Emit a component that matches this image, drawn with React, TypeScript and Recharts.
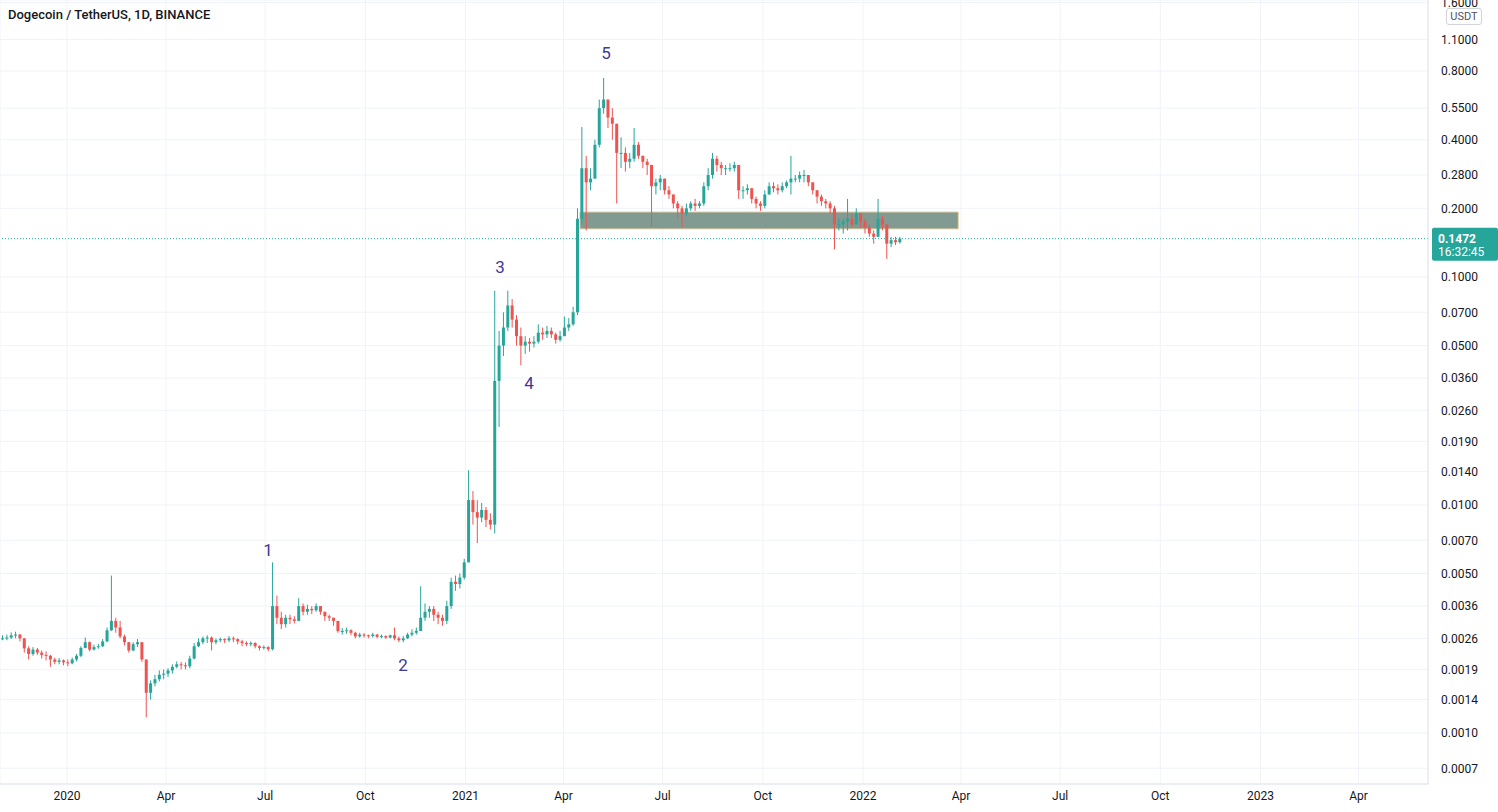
import {
  ComposedChart,
  Bar,
  XAxis,
  YAxis,
  CartesianGrid,
  ReferenceLine,
  ReferenceArea,
  ReferenceDot,
} from 'recharts';

// days are counted from 2020-01-01; one candle = 4 days, first candle starts 2019-11-01
const START_DAY = -61;
const STEP_DAYS = 4;
const FIRST_OPEN = 0.00258;

const closes = [
  0.0026, 0.00262, 0.00268, 0.0027, 0.0026, 0.00235, 0.00222, 0.00232, 0.00225, 0.0022,
  0.00218, 0.0021, 0.00205, 0.00208, 0.00204, 0.00202, 0.0021, 0.00218, 0.00236, 0.0025,
  0.00232, 0.00238, 0.0024, 0.00252, 0.00282, 0.0031, 0.0029, 0.00265, 0.0025, 0.0023,
  0.00245, 0.0025, 0.0021, 0.0015, 0.00165, 0.00172, 0.0018, 0.00182, 0.00188, 0.00195,
  0.002, 0.00198, 0.00196, 0.00212, 0.0024, 0.0025, 0.0026, 0.00262, 0.0025, 0.00255,
  0.00258, 0.00255, 0.0026, 0.00258, 0.00252, 0.00248, 0.00245, 0.00248, 0.0024, 0.00236,
  0.00238, 0.00233, 0.0036, 0.0032, 0.003, 0.0032, 0.00315, 0.0031, 0.0036, 0.0034,
  0.0035, 0.00345, 0.0036, 0.0034, 0.00325, 0.0032, 0.0031, 0.0028, 0.0028, 0.00282,
  0.00275, 0.00265, 0.0027, 0.00268, 0.00266, 0.0027, 0.00264, 0.00266, 0.00262, 0.00268,
  0.0026, 0.00255, 0.0026, 0.0027, 0.00275, 0.0028, 0.0032, 0.0034, 0.0035, 0.0033,
  0.0032, 0.0031, 0.0036, 0.0046, 0.0045, 0.0048, 0.0056, 0.0105, 0.0093, 0.0088,
  0.0095, 0.0086, 0.0082, 0.035, 0.05, 0.06, 0.075, 0.065, 0.055, 0.05,
  0.052, 0.051, 0.052, 0.057, 0.056, 0.058, 0.056, 0.053, 0.055, 0.06,
  0.062, 0.07, 0.18, 0.3, 0.26, 0.27, 0.38, 0.55, 0.6, 0.5,
  0.47, 0.35, 0.35, 0.32, 0.33, 0.38, 0.34, 0.32, 0.31, 0.25,
  0.26, 0.27, 0.24, 0.23, 0.21, 0.2, 0.19, 0.2, 0.21, 0.205,
  0.21, 0.25, 0.28, 0.33, 0.31, 0.3, 0.3, 0.3, 0.31, 0.24,
  0.24, 0.245, 0.22, 0.21, 0.205, 0.23, 0.25, 0.245, 0.24, 0.25,
  0.26, 0.27, 0.27, 0.28, 0.28, 0.26, 0.24, 0.225, 0.215, 0.21,
  0.2, 0.17, 0.17, 0.175, 0.18, 0.17, 0.19, 0.175, 0.165, 0.155,
  0.15, 0.18, 0.17, 0.14, 0.145, 0.142, 0.1472,
];

const highs = [
  0.00268, 0.0027, 0.00276, 0.00278, 0.00272, 0.0026, 0.0024, 0.00238, 0.00236, 0.0023,
  0.00228, 0.0022, 0.00214, 0.00213, 0.0021, 0.0021, 0.00214, 0.00222, 0.0024, 0.00262,
  0.00252, 0.00244, 0.00246, 0.00258, 0.0029, 0.0049, 0.0032, 0.0031, 0.0027, 0.0025,
  0.0025, 0.00258, 0.0025, 0.0021, 0.0017, 0.0018, 0.00188, 0.0019, 0.00192, 0.002,
  0.00206, 0.00205, 0.00204, 0.00218, 0.00248, 0.0026, 0.00265, 0.00268, 0.00265, 0.0026,
  0.00262, 0.0026, 0.00266, 0.00265, 0.0026, 0.00256, 0.00252, 0.00252, 0.0025, 0.00242,
  0.00242, 0.0024, 0.0056, 0.004, 0.0034, 0.0033, 0.0033, 0.00325, 0.0039, 0.0037,
  0.00365, 0.0036, 0.0037, 0.0036, 0.0034, 0.0033, 0.0032, 0.0031, 0.00288, 0.0029,
  0.00285, 0.00278, 0.00275, 0.00274, 0.0027, 0.00275, 0.00272, 0.0027, 0.00268, 0.0027,
  0.0029, 0.00265, 0.00266, 0.00275, 0.00285, 0.0029, 0.0044, 0.0037, 0.0036, 0.0036,
  0.0034, 0.0033, 0.0038, 0.0048, 0.0049, 0.005, 0.0058, 0.0142, 0.0115, 0.0105,
  0.0102, 0.0098, 0.0092, 0.087, 0.058, 0.07, 0.087, 0.08, 0.068, 0.06,
  0.055, 0.054, 0.055, 0.062, 0.06, 0.061, 0.06, 0.057, 0.058, 0.067,
  0.066, 0.074, 0.2, 0.455, 0.34, 0.3, 0.4, 0.6, 0.746, 0.6,
  0.55, 0.45, 0.41, 0.37, 0.35, 0.45, 0.39, 0.34, 0.33, 0.31,
  0.27, 0.28, 0.27, 0.25, 0.23, 0.215, 0.205, 0.21, 0.215, 0.22,
  0.215, 0.26, 0.3, 0.35, 0.34, 0.32, 0.31, 0.315, 0.32, 0.31,
  0.25, 0.255, 0.245, 0.225, 0.215, 0.24, 0.26, 0.26, 0.255, 0.26,
  0.265, 0.34, 0.28, 0.29, 0.295, 0.28, 0.26, 0.24, 0.23, 0.22,
  0.215, 0.205, 0.18, 0.18, 0.22, 0.19, 0.2, 0.19, 0.18, 0.17,
  0.16, 0.22, 0.185, 0.17, 0.15, 0.15, 0.15,
];

const lows = [
  0.00255, 0.00255, 0.00258, 0.0026, 0.00252, 0.00225, 0.0021, 0.00218, 0.0022, 0.00212,
  0.00208, 0.00195, 0.002, 0.002, 0.00198, 0.00196, 0.002, 0.00206, 0.00215, 0.00235,
  0.00228, 0.0023, 0.00234, 0.00238, 0.0025, 0.0028, 0.00275, 0.0026, 0.00242, 0.00225,
  0.00228, 0.00238, 0.00205, 0.00117, 0.0014, 0.0016, 0.00168, 0.00172, 0.00176, 0.00182,
  0.00192, 0.0019, 0.0019, 0.00192, 0.0021, 0.00238, 0.00245, 0.00248, 0.0023, 0.00245,
  0.0025, 0.00248, 0.0025, 0.0025, 0.00245, 0.0024, 0.0024, 0.0024, 0.00235, 0.0023,
  0.00232, 0.00228, 0.0023, 0.003, 0.00285, 0.0029, 0.003, 0.00302, 0.0031, 0.00328,
  0.0033, 0.00332, 0.0034, 0.0033, 0.0031, 0.0031, 0.00295, 0.00275, 0.0027, 0.00272,
  0.00268, 0.0026, 0.00262, 0.00262, 0.0026, 0.00262, 0.0026, 0.0026, 0.00258, 0.0026,
  0.00255, 0.0025, 0.0025, 0.00258, 0.00265, 0.0027, 0.0028, 0.0031, 0.0032, 0.0031,
  0.003, 0.00295, 0.003, 0.0035, 0.0042, 0.0043, 0.0047, 0.0056, 0.0082, 0.0068,
  0.0084, 0.008, 0.0078, 0.0075, 0.022, 0.045, 0.058, 0.06, 0.05, 0.041,
  0.046, 0.047, 0.049, 0.051, 0.053, 0.054, 0.054, 0.051, 0.052, 0.055,
  0.058, 0.061, 0.068, 0.17, 0.16, 0.24, 0.27, 0.37, 0.52, 0.45,
  0.4, 0.21, 0.3, 0.29, 0.3, 0.32, 0.33, 0.3, 0.28, 0.166,
  0.23, 0.24, 0.23, 0.22, 0.2, 0.18, 0.165, 0.185, 0.195, 0.195,
  0.2, 0.205, 0.24, 0.27, 0.29, 0.28, 0.28, 0.29, 0.29, 0.22,
  0.22, 0.23, 0.21, 0.2, 0.195, 0.2, 0.235, 0.235, 0.23, 0.235,
  0.245, 0.23, 0.26, 0.26, 0.26, 0.25, 0.23, 0.21, 0.205, 0.2,
  0.19, 0.132, 0.16, 0.155, 0.16, 0.165, 0.17, 0.165, 0.155, 0.15,
  0.14, 0.15, 0.16, 0.12, 0.135, 0.138, 0.14,
];

const LAST_PRICE = 0.1472;
const LAST_TIME = '16:32:45';

const PRICE_TICKS = [
  0.0007, 0.001, 0.0014, 0.0019, 0.0026, 0.0036, 0.005, 0.007, 0.01, 0.014, 0.019,
  0.026, 0.036, 0.05, 0.07, 0.1, 0.2, 0.28, 0.4, 0.55, 0.8, 1.1, 1.6,
];

const DATE_TICKS = [0, 91, 182, 274, 366, 456, 547, 639, 731, 821, 912, 1004, 1096, 1186];
const DATE_LABELS = ['2020', 'Apr', 'Jul', 'Oct', '2021', 'Apr', 'Jul', 'Oct', '2022', 'Apr', 'Jul', 'Oct', '2023', 'Apr'];

// wave count annotations (day, price)
const WAVE_NAMES = ['1', '2', '3', '4', '5'];
const WAVE_DAYS = [184.6, 308.5, 397.6, 424.2, 494.9];
const WAVE_PRICES = [0.00635, 0.00199, 0.1106, 0.0343, 0.96];

// support zone
const ZONE_DAYS = [471, 818.5];
const ZONE_PRICES = [0.1624, 0.1928];

const UP = '#26a69a';
const DOWN = '#ef5350';

const rows = closes.map((c, i) => ({
  day: START_DAY + STEP_DAYS * i + 1.5,
  open: i === 0 ? FIRST_OPEN : closes[i - 1],
  close: c,
  high: highs[i],
  low: lows[i],
}));

const Candle = (props: any) => {
  const { x, y, width, height, payload } = props;
  if (x == null || y == null || !payload) return null;
  const { open, close, high, low } = payload;
  const color = close >= open ? UP : DOWN;
  const lh = Math.log(high);
  const span = lh - Math.log(low) || 1;
  const yAt = (v: number) => y + (height * (lh - Math.log(v))) / span;
  const cx = x + width / 2;
  const yo = yAt(open);
  const yc = yAt(close);
  const top = Math.min(yo, yc);
  const bh = Math.max(1, Math.abs(yo - yc));
  return (
    <g>
      <line
        x1={cx}
        x2={cx}
        y1={Math.min(y, top)}
        y2={Math.max(y + height, top + bh)}
        stroke={color}
        strokeWidth={1}
      />
      <rect x={x} y={top} width={width} height={bh} fill={color} />
    </g>
  );
};

const PriceTag = (props: any) => {
  const vb = props.viewBox;
  if (!vb) return null;
  const left = vb.x + vb.width + 4;
  return (
    <g>
      <rect x={left} y={vb.y - 11} width={66} height={33} rx={2} fill={UP} />
      <text x={left + 6} y={vb.y + 4} fill="#fff" fontSize={12} fontWeight={700} fontFamily="Roboto, sans-serif">
        {LAST_PRICE.toFixed(4)}
      </text>
      <text x={left + 6} y={vb.y + 17} fill="#fff" fontSize={12} fontFamily="Roboto, sans-serif">
        {LAST_TIME}
      </text>
    </g>
  );
};

export default function App() {
  return (
    <div style={{ position: 'relative', width: 1498, height: 812, background: '#fff', overflow: 'hidden' }}>
      <style>{'body{margin:0}'}</style>
      <ComposedChart
        width={1498}
        height={812}
        data={rows}
        margin={{ top: 0, right: 0, bottom: 0, left: 0 }}
      >
        <CartesianGrid stroke="#f0f3fa" />
        <XAxis
          dataKey="day"
          type="number"
          domain={[-61.5, 1249.8]}
          allowDataOverflow
          ticks={DATE_TICKS}
          tickFormatter={(v: number) => DATE_LABELS[DATE_TICKS.indexOf(v)] ?? ''}
          height={28}
          axisLine={{ stroke: '#e0e3eb' }}
          tickLine={false}
          tickSize={6}
          tickMargin={1}
          tick={{ fill: '#131722', fontSize: 12, fontFamily: 'Roboto, sans-serif' }}
          interval={0}
        />
        <YAxis
          orientation="right"
          scale="log"
          domain={[0.000597, 1.64]}
          allowDataOverflow
          ticks={PRICE_TICKS}
          tickFormatter={(v: number) => v.toFixed(4)}
          width={70}
          axisLine={{ stroke: '#e0e3eb' }}
          tickLine={false}
          tickSize={6}
          tickMargin={7}
          tick={{ fill: '#131722', fontSize: 12, fontFamily: 'Roboto, sans-serif', textAnchor: 'start' }}
          interval={0}
        />
        <ReferenceArea
          x1={ZONE_DAYS[0]}
          x2={ZONE_DAYS[1]}
          y1={ZONE_PRICES[0]}
          y2={ZONE_PRICES[1]}
          fill="#7a968c"
          fillOpacity={0.95}
          stroke="#eed3a3"
          strokeWidth={1}
          ifOverflow="visible"
        />
        <Bar
          dataKey={(d: any) => [d.low, d.high]}
          shape={<Candle />}
          barSize={3}
          isAnimationActive={false}
        />
        <ReferenceLine
          y={LAST_PRICE}
          stroke={UP}
          strokeDasharray="1 2"
          label={<PriceTag />}
        />
        {WAVE_NAMES.map((name, i) => (
          <ReferenceDot
            key={name}
            x={WAVE_DAYS[i]}
            y={WAVE_PRICES[i]}
            ifOverflow="visible"
            shape={(p: any) => (
              <text
                x={p.cx}
                y={p.cy}
                textAnchor="middle"
                dominantBaseline="central"
                fill="#3d3a9c"
                fontSize={17}
                fontFamily="Roboto, sans-serif"
              >
                {name}
              </text>
            )}
          />
        ))}
      </ComposedChart>

      <div
        style={{
          position: 'absolute',
          left: 8,
          top: 7,
          fontFamily: 'Roboto, sans-serif',
          fontSize: 13,
          fontWeight: 500,
          color: '#131722',
        }}
      >
        Dogecoin / TetherUS, 1D, BINANCE
      </div>
      <div
        style={{
          position: 'absolute',
          left: 1446,
          top: 8,
          width: 34,
          height: 15,
          lineHeight: '15px',
          border: '1px solid #d1d4dc',
          borderRadius: 3,
          background: '#fff',
          fontFamily: 'Roboto, sans-serif',
          fontSize: 11,
          color: '#50535e',
          textAlign: 'center',
        }}
      >
        USDT
      </div>
    </div>
  );
}
